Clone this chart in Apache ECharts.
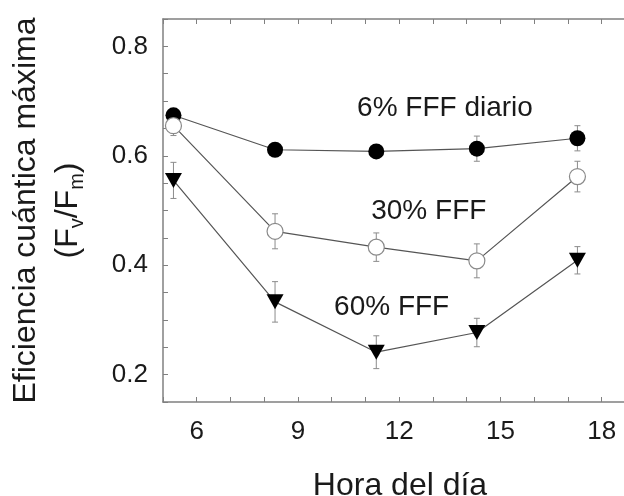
<!DOCTYPE html>
<html>
<head>
<meta charset="utf-8">
<script src="https://cdn.jsdelivr.net/npm/echarts@6/dist/echarts.min.js"></script>
<style>html,body{margin:0;padding:0;background:#fff}#c{width:624px;height:496px}</style>
</head>
<body>
<div id="c"></div>
<script>
var hours = [5.31, 8.32, 11.32, 14.3, 17.28];
var fff6 = [0.674, 0.611, 0.608, 0.613, 0.632];
var err6 = [0.010, 0.010, 0.010, 0.023, 0.023];
var fff30 = [0.655, 0.462, 0.433, 0.408, 0.562];
var err30 = [0.018, 0.032, 0.026, 0.031, 0.028];
var fff60 = [0.555, 0.333, 0.241, 0.277, 0.409];
var err60 = [0.033, 0.037, 0.030, 0.026, 0.025];
var xTickLabels = [6, 9, 12, 15, 18];
var yTickLabels = [0.2, 0.4, 0.6, 0.8];
var seriesLabels = ['6% FFF diario', '30% FFF', '60% FFF'];
var labelX = [13.37, 12.89, 11.79];
var labelY = [0.685, 0.498, 0.323];

var FONT = '"Liberation Sans", Arial, Helvetica, sans-serif';
var AX = '#808080';
var TXT = '#1a1a1a';

function pairs(xs, ys) { return xs.map(function (x, i) { return [x, ys[i]]; }); }
function errData(xs, ys, es) { return xs.map(function (x, i) { return [x, ys[i] - es[i], ys[i] + es[i]]; }); }

function errSeries(xs, ys, es) {
  return {
    type: 'custom',
    z: 1,
    silent: true,
    data: errData(xs, ys, es),
    encode: { x: 0, y: [1, 2] },
    renderItem: function (params, api) {
      var lo = api.coord([api.value(0), api.value(1)]);
      var hi = api.coord([api.value(0), api.value(2)]);
      var w = 3;
      var st = { stroke: '#8c8c8c', lineWidth: 1 };
      return {
        type: 'group',
        children: [
          { type: 'line', shape: { x1: lo[0], y1: lo[1], x2: hi[0], y2: hi[1] }, style: st },
          { type: 'line', shape: { x1: lo[0] - w, y1: lo[1], x2: lo[0] + w, y2: lo[1] }, style: st },
          { type: 'line', shape: { x1: hi[0] - w, y1: hi[1], x2: hi[0] + w, y2: hi[1] }, style: st }
        ]
      };
    }
  };
}

function isIn(list, v) {
  for (var i = 0; i < list.length; i++) if (Math.abs(list[i] - v) < 1e-6) return true;
  return false;
}

var chart = echarts.init(document.getElementById('c'), null, { renderer: 'canvas' });
var option = {
  animation: false,
  backgroundColor: '#fff',
  textStyle: { fontFamily: FONT },
  grid: { left: 163, right: 0, top: 19, bottom: 94, containLabel: false, outerBoundsMode: 'none' },
  xAxis: [{
    type: 'value', min: 5, max: 18.66, interval: 1, position: 'bottom',
    axisLine: { show: true, onZero: false, lineStyle: { color: AX, width: 1.5 } },
    axisTick: { show: true, inside: true, length: 5, lineStyle: { color: AX, width: 1 } },
    splitLine: { show: false },
    axisLabel: {
      margin: 17, fontSize: 26, color: TXT, fontFamily: FONT, showMaxLabel: false,
      formatter: function (v) { return isIn(xTickLabels, v) ? String(Math.round(v)) : ''; }
    },
    name: 'Hora del día', nameLocation: 'middle', nameGap: 68,
    nameTextStyle: { fontSize: 32, color: TXT, fontFamily: FONT, padding: [0, 0, 0, 13] }
  }, {
    type: 'value', min: 5, max: 18.66, interval: 1, position: 'top',
    axisLine: { show: true, onZero: false, lineStyle: { color: AX, width: 1.5 } },
    axisTick: { show: true, inside: true, length: 5, lineStyle: { color: AX, width: 1 } },
    splitLine: { show: false },
    axisLabel: { show: false }
  }],
  yAxis: [{
    type: 'value', min: 0.15, max: 0.85, interval: 0.05,
    axisLine: { show: true, onZero: false, lineStyle: { color: AX, width: 1.5 } },
    axisTick: { show: true, inside: true, length: 5, lineStyle: { color: AX, width: 1 } },
    splitLine: { show: false },
    axisLabel: {
      margin: 15, fontSize: 26, color: TXT, fontFamily: FONT,
      formatter: function (v) { return isIn(yTickLabels, v) ? v.toFixed(1) : ''; }
    },
    name: 'Eficiencia cuántica máxima\n(F{sub|v}/F{sub|m})',
    nameLocation: 'middle', nameRotate: 90, nameGap: 74,
    nameTextStyle: {
      fontSize: 32, color: TXT, fontFamily: FONT, lineHeight: 42, align: 'center',
      rich: { sub: { fontSize: 20, color: TXT, fontFamily: FONT, padding: [18, 0, 0, 0], lineHeight: 42 } }
    }
  }],
  series: [
    errSeries(hours, fff6, err6),
    errSeries(hours, fff30, err30),
    errSeries(hours, fff60, err60),
    {
      name: seriesLabels[0], type: 'line', z: 3, data: pairs(hours, fff6),
      symbol: 'circle', symbolSize: 16,
      lineStyle: { color: '#555', width: 1.2 },
      itemStyle: { color: '#000', borderColor: '#000', borderWidth: 0 }
    },
    {
      name: seriesLabels[1], type: 'line', z: 4, data: pairs(hours, fff30),
      symbol: 'circle', symbolSize: 16,
      lineStyle: { color: '#555', width: 1.2 },
      itemStyle: { color: '#fff', borderColor: '#8a8a8a', borderWidth: 1.2 }
    },
    {
      name: seriesLabels[2], type: 'line', z: 5, data: pairs(hours, fff60),
      symbol: 'triangle', symbolSize: [17, 15], symbolRotate: 180,
      lineStyle: { color: '#555', width: 1.2 },
      itemStyle: { color: '#000', borderWidth: 0 }
    },
    {
      type: 'scatter', z: 6, silent: true,
      data: labelX.map(function (x, i) { return { value: [x, labelY[i]], name: seriesLabels[i] }; }),
      symbol: 'circle', symbolSize: 1,
      itemStyle: { opacity: 0 },
      label: {
        show: true, position: [0, 0], align: 'center', verticalAlign: 'middle',
        fontSize: 28, color: TXT, fontFamily: FONT, textBorderWidth: 0, opacity: 1,
        formatter: function (p) { return p.name; }
      }
    }
  ]
};
chart.setOption(option);
</script>
</body>
</html>
